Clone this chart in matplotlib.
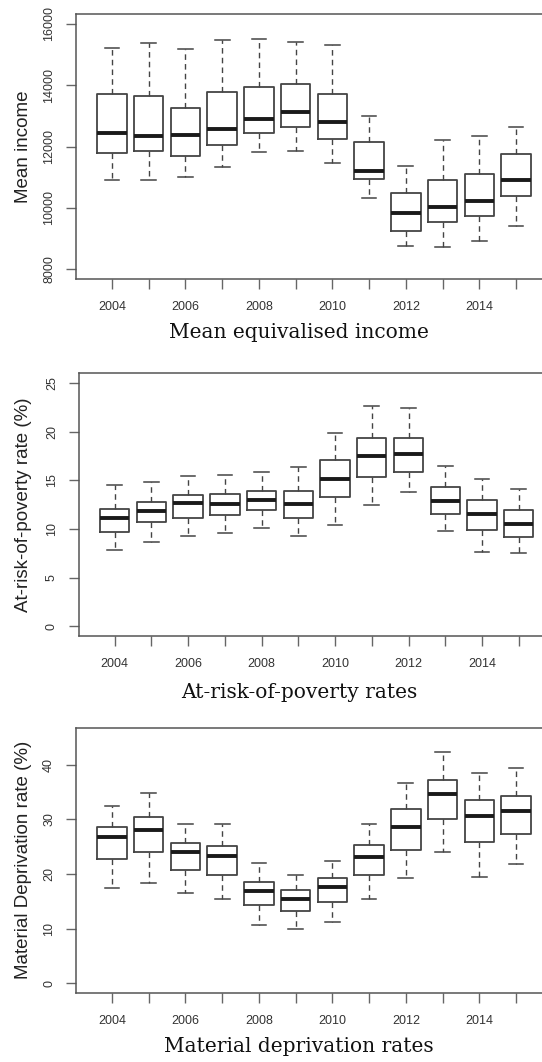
import matplotlib
matplotlib.use("Agg")
import matplotlib.pyplot as plt

years = list(range(2004, 2016))
year_labels = ["2004", "", "2006", "", "2008", "", "2010", "", "2012", "", "2014", ""]

# mean equivalised income: lower whisker, Q1, median, Q3, upper whisker
inc_lo = [10906, 10906, 11015, 11341, 11810, 11842, 11450, 10318, 8740, 8718, 8914, 9405]
inc_q1 = [11788, 11842, 11690, 12038, 12430, 12648, 12245, 10928, 9241, 9546, 9731, 10373]
inc_med = [12430, 12332, 12376, 12571, 12887, 13127, 12800, 11200, 9818, 10025, 10220, 10906]
inc_q3 = [13703, 13660, 13257, 13791, 13954, 14052, 13725, 12158, 10482, 10895, 11091, 11755]
inc_hi = [15205, 15369, 15173, 15467, 15521, 15412, 15293, 12985, 11363, 12212, 12332, 12648]

# at-risk-of-poverty rate (%)
pov_lo = [7.84, 8.66, 9.25, 9.59, 10.07, 9.25, 10.41, 12.43, 13.77, 9.76, 7.67, 7.57]
pov_q1 = [9.69, 10.68, 11.13, 11.44, 11.92, 11.13, 13.25, 15.34, 15.86, 11.51, 9.93, 9.18]
pov_med = [11.16, 11.82, 12.67, 12.60, 12.95, 12.53, 15.17, 17.53, 17.71, 12.84, 11.54, 10.51]
pov_q3 = [12.05, 12.74, 13.49, 13.56, 13.90, 13.90, 17.05, 19.35, 19.35, 14.28, 12.95, 11.92]
pov_hi = [14.52, 14.83, 15.45, 15.58, 15.86, 16.37, 19.83, 22.64, 22.43, 16.47, 15.17, 14.08]

# material deprivation rate (%)
dep_lo = [17.47, 18.26, 16.49, 15.39, 10.63, 9.89, 11.18, 15.39, 19.30, 23.94, 19.48, 21.86]
dep_q1 = [22.72, 24.12, 20.82, 19.79, 14.35, 13.19, 14.90, 19.79, 24.37, 30.11, 25.89, 27.30]
dep_med = [26.69, 28.15, 23.94, 23.33, 16.92, 15.39, 17.53, 23.08, 28.64, 34.63, 30.60, 31.45]
dep_q3 = [28.58, 30.41, 25.59, 25.16, 18.50, 17.04, 19.24, 25.28, 31.94, 37.19, 33.53, 34.32]
dep_hi = [32.49, 34.75, 29.07, 29.19, 21.98, 19.79, 22.29, 29.19, 36.58, 42.32, 38.47, 39.39]

W, H = 542, 1062
fig = plt.figure(figsize=(W / 100, H / 100), dpi=100)

sans = ["Liberation Sans", "DejaVu Sans"]
AX_COL = "#555555"
TXT_COL = "#333333"


def box_panel(rect, lo, q1, med, q3, hi, ylim, yticks, ylabel, title, title_y):
    left, top, right, bottom = rect
    ax = fig.add_axes([left / W, 1 - bottom / H, (right - left) / W, (bottom - top) / H])
    stats = [dict(whislo=a, q1=b, med=c, q3=d, whishi=e, fliers=[])
             for a, b, c, d, e in zip(lo, q1, med, q3, hi)]
    ax.bxp(stats, positions=range(1, 13), widths=0.8, showfliers=False,
           boxprops=dict(color="#444444", linewidth=1.3),
           medianprops=dict(color="#1a1a1a", linewidth=2.8, solid_capstyle="butt"),
           whiskerprops=dict(color="#444444", linewidth=1.0, linestyle=(0, (4, 3))),
           capprops=dict(color="#444444", linewidth=1.1), capwidths=0.4)
    ax.set_xlim(0.02, 12.98)
    ax.set_ylim(*ylim)
    ax.set_xticks(range(1, 13))
    ax.set_xticklabels(year_labels, fontsize=9, family=sans, color=TXT_COL)
    ax.set_yticks(yticks)
    ax.set_yticklabels([str(t) for t in yticks], fontsize=9, family=sans,
                       color=TXT_COL, rotation=90, va="center")
    ax.tick_params(axis="both", length=7, width=1.0, color="#666666", pad=8)
    ax.tick_params(axis="x", pad=9)
    for s in ax.spines.values():
        s.set_color(AX_COL)
        s.set_linewidth(1.1)
    ax.set_ylabel(ylabel, fontsize=13.5, family=sans, color="#222222")
    ax.yaxis.label.set_va("center")
    ax.yaxis.set_label_coords((24 - left) / (right - left), 0.5)
    fig.text(299 / W, 1 - title_y / H, title, ha="center", va="center",
             fontsize=14.5, family=["DejaVu Serif"], color="#111111")
    return ax


box_panel((76, 14, 552, 279), inc_lo, inc_q1, inc_med, inc_q3, inc_hi,
          (7680, 16320), [8000, 10000, 12000, 14000, 16000],
          "Mean income", "Mean equivalised income", 333)
box_panel((78.7, 373.3, 554.7, 636), pov_lo, pov_q1, pov_med, pov_q3, pov_hi,
          (-1, 26), [0, 5, 10, 15, 20, 25],
          "At-risk-of-poverty rate (%)", "At-risk-of-poverty rates", 693)
box_panel((76, 727.7, 552, 993), dep_lo, dep_q1, dep_med, dep_q3, dep_hi,
          (-1.8, 46.8), [0, 10, 20, 30, 40],
          "Material Deprivation rate (%)", "Material deprivation rates", 1047)

fig.savefig("out.png", dpi=100)
